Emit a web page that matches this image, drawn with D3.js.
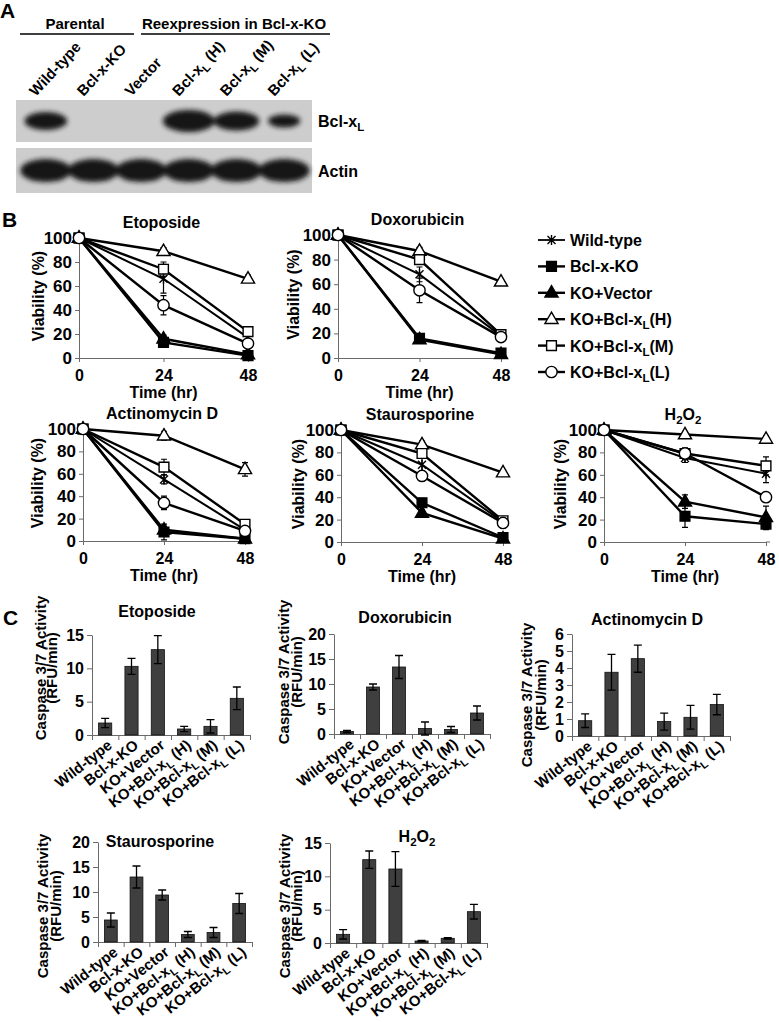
<!DOCTYPE html>
<html><head><meta charset="utf-8">
<script src="https://cdn.jsdelivr.net/npm/d3@7"></script>
<style>
body{margin:0;background:#fff}
text{font-family:"Liberation Sans",Arial,Helvetica,sans-serif;font-weight:bold;fill:#000}
</style>
</head><body>
<svg id="c" width="779" height="1022"></svg>
<script>
// ---------------- DATA ----------------
const lanes = ["Wild-type","Bcl-x-KO","Vector","Bcl-x_L (H)","Bcl-x_L (M)","Bcl-x_L (L)"];
const bclxlBand = [1.0,0,0,1.35,1.1,0.6];
const actinBand = [1,1,1,1,1,1];

const timePoints = [0,24,48];
const viabilityTicks = [0,20,40,60,80,100];
const seriesNames = ["Wild-type","Bcl-x-KO","KO+Vector","KO+Bcl-x_L(H)","KO+Bcl-x_L(M)","KO+Bcl-x_L(L)"];

const etoposideViability    = [[100,66,17],[100,13,2],[100,16,3],[100,89,66],[100,74,22],[100,44,12]];
const etoposideViabilityErr = [[0,12,3],[0,2,1],[0,3,1],[0,3,3],[0,6,3],[0,8,3]];
const doxorubicinViability    = [[100,68,18],[100,16,4],[100,15,3],[100,87,62],[100,80,19],[100,55,17]];
const doxorubicinViabilityErr = [[0,6,3],[0,3,1],[0,2,1],[0,3,2],[0,4,3],[0,10,3]];
const actinomycinViability    = [[100,55,10],[100,8,2],[100,10,2],[100,94,64],[100,66,15],[100,34,9]];
const actinomycinViabilityErr = [[0,4,2],[0,7,1],[0,3,1],[0,4,6],[0,7,3],[0,6,2]];
const staurosporineViability    = [[100,69,18],[100,35,4],[100,26,3],[100,87,62],[100,79,19],[100,59,17]];
const staurosporineViabilityErr = [[0,6,3],[0,4,2],[0,3,1],[0,3,2],[0,4,3],[0,4,3]];
const h2o2Viability    = [[100,75,61],[100,23,16],[100,36,22],[100,96,92],[100,79,68],[100,79,40]];
const h2o2ViabilityErr = [[0,4,8],[0,10,5],[0,6,10],[0,2,3],[0,5,8],[0,3,2]];

const caspaseCategories = ["Wild-type","Bcl-x-KO","KO+Vector","KO+Bcl-x_L (H)","KO+Bcl-x_L (M)","KO+Bcl-x_L (L)"];
const etoposideCaspase    = [1.8,10.3,12.8,0.9,1.3,5.5];
const etoposideCaspaseErr = [0.7,1.2,2.1,0.4,1.0,1.7];
const etoposideTicks = [0,5,10,15];
const doxorubicinCaspase    = [0.5,9.4,13.4,1.1,0.9,4.2];
const doxorubicinCaspaseErr = [0.2,0.6,2.3,1.3,0.6,1.4];
const doxorubicinTicks = [0,5,10,15,20];
const actinomycinCaspase    = [0.9,3.75,4.55,0.85,1.1,1.85];
const actinomycinCaspaseErr = [0.4,1.05,0.8,0.5,0.7,0.6];
const actinomycinTicks = [0,1,2,3,4,5,6];
const staurosporineCaspase    = [4.4,13.0,9.4,1.5,1.9,7.7];
const staurosporineCaspaseErr = [1.4,2.2,1.0,0.6,1.0,2.0];
const staurosporineTicks = [0,5,10,15,20];
const h2o2Caspase    = [1.3,12.5,11.1,0.3,0.7,4.7];
const h2o2CaspaseErr = [0.7,1.3,2.6,0.1,0.1,1.1];
const h2o2Ticks = [0,5,10,15];

// ---------------- HELPERS ----------------
const svg = d3.select("#c");
const defs = svg.append("defs");
defs.append("filter").attr("id","blur").attr("x","-50%").attr("y","-50%").attr("width","200%").attr("height","200%")
  .append("feGaussianBlur").attr("stdDeviation",2.6);

function rich(t, str, size){
  const parts = str.split(/_(\w)/);
  parts.forEach((p,i)=>{
    if(p==="") return;
    if(i%2===1) t.append("tspan").attr("dy",4).attr("font-size",size*0.72).text(p);
    else t.append("tspan").attr("dy", i>0?-4:0).text(p);
  });
  return t;
}
function label(x,y,str,size,anchor,rot){
  const t = svg.append("text").attr("font-size",size).attr("text-anchor",anchor||"start")
    .attr("transform",`translate(${x},${y})`+(rot?` rotate(${rot})`:""));
  return rich(t,str,size);
}
const AX = "#6a6a6a";
const fmt = d3.format("d");
function styleAxis(g,fs){
  g.selectAll(".domain").attr("stroke",AX).attr("stroke-width",1);
  g.selectAll(".tick line").attr("stroke",AX).attr("stroke-width",1);
  g.selectAll(".tick text").attr("font-size",fs).attr("fill","#000")
    .attr("font-family",'"Liberation Sans",Arial,sans-serif').attr("font-weight","bold");
}

// ---------------- PANEL A ----------------
label(0,18,"A",21,"start");
label(75,29,"Parental",15,"middle");
label(234,29,"Reexpression in Bcl-x-KO",15,"middle");
svg.append("line").attr("x1",20).attr("x2",134).attr("y1",34).attr("y2",34).attr("stroke","#000").attr("stroke-width",1.3);
svg.append("line").attr("x1",141).attr("x2",330).attr("y1",34).attr("y2",34).attr("stroke","#000").attr("stroke-width",1.3);

const laneX = d3.scaleBand().domain(lanes).range([22,308]);
lanes.forEach(l=>{
  label(laneX(l)+laneX.bandwidth()/2-10,97,l,15,"start",-47);
});
const bandRx = d3.scaleLinear().domain([0,1.35]).range([8,26]);
const bandRy = d3.scaleLinear().domain([0,1.35]).range([3,11]);
const blots = [{vals:bclxlBand,y0:100,y1:142,name:"Bcl-x_L",rx:bandRx,ry:bandRy},
               {vals:actinBand,y0:148,y1:193,name:"Actin",rx:d3.scaleLinear().domain([0,1]).range([0,25.5]),ry:d3.scaleLinear().domain([0,1]).range([0,11.5])}];
blots.forEach(b=>{
  svg.append("rect").attr("x",16).attr("y",b.y0).attr("width",296).attr("height",b.y1-b.y0).attr("fill","#cdcdcd");
  const cy=(b.y0+b.y1)/2;
  const g = svg.append("g").attr("filter","url(#blur)");
  b.vals.forEach((v,i)=>{
    if(v<=0) return;
    g.append("ellipse").attr("cx",laneX(lanes[i])+laneX.bandwidth()/2).attr("cy",cy)
      .attr("rx",b.rx(v)).attr("ry",b.ry(v)).attr("fill","#141414");
  });
  label(318,cy+6,b.name,16,"start");
});

// ---------------- PANEL B ----------------
label(2,227,"B",21,"start");
function drawMarker(g,i,x,y){
  if(i===0){
    g.append("path").attr("d",`M${x-4},${y-4}L${x+4},${y+4}M${x-4},${y+4}L${x+4},${y-4}M${x},${y-5}L${x},${y+5}`)
      .attr("stroke","#000").attr("stroke-width",1.4).attr("fill","none");
    return;
  }
  const types=[null,d3.symbolSquare,d3.symbolTriangle,d3.symbolTriangle,d3.symbolSquare,d3.symbolCircle];
  const sizes=[0,95,75,75,95,100];
  const filled = i===1||i===2;
  g.append("path").attr("d",d3.symbol(types[i],sizes[i])())
    .attr("transform",`translate(${x},${y+(types[i]===d3.symbolTriangle?0.5:0)})`)
    .attr("fill",filled?"#000":"#fff").attr("stroke","#000").attr("stroke-width",1.4);
}
const viabilityPanels = [
  {title:"Etoposide",vals:etoposideViability,errs:etoposideViabilityErr,x0:79,x1:248,yTop:238,yBot:358,lx:44},
  {title:"Doxorubicin",vals:doxorubicinViability,errs:doxorubicinViabilityErr,x0:338,x1:501,yTop:235,yBot:358,lx:299},
  {title:"Actinomycin D",vals:actinomycinViability,errs:actinomycinViabilityErr,x0:83,x1:245,yTop:429,yBot:541,lx:43},
  {title:"Staurosporine",vals:staurosporineViability,errs:staurosporineViabilityErr,x0:341,x1:503,yTop:430,yBot:542,lx:304},
  {title:"H_2O_2",vals:h2o2Viability,errs:h2o2ViabilityErr,x0:604,x1:766,yTop:430,yBot:542,lx:566}
];
viabilityPanels.forEach(p=>{
  const x=d3.scaleLinear().domain([0,48]).range([p.x0,p.x1]);
  const y=d3.scaleLinear().domain([0,100]).range([p.yBot,p.yTop]);
  const gy=svg.append("g").attr("transform",`translate(${p.x0},0)`)
    .call(d3.axisLeft(y).tickValues(viabilityTicks).tickFormat(fmt).tickSize(4).tickSizeOuter(0).tickPadding(3));
  styleAxis(gy,17);
  const gx=svg.append("g").attr("transform",`translate(0,${p.yBot})`)
    .call(d3.axisBottom(x).tickValues(timePoints).tickFormat(fmt).tickSize(4).tickSizeOuter(0).tickPadding(8));
  styleAxis(gx,16);
  svg.append("line").attr("x1",p.x1).attr("x2",p.x1+4).attr("y1",p.yBot).attr("y2",p.yBot).attr("stroke",AX);
  label((p.x0+p.x1)/2-2,p.yTop-10,p.title,16,"middle");
  label(p.lx,(p.yTop+p.yBot)/2-2,"Viability (%)",16,"middle",-90);
  label((p.x0+p.x1)/2,p.yBot+40,"Time (hr)",16,"middle");
  const line=d3.line().x((d,i)=>x(timePoints[i])).y(d=>y(d));
  const g=svg.append("g");
  p.vals.forEach((s,k)=>{
    g.append("path").attr("d",line(s)).attr("fill","none").attr("stroke","#000").attr("stroke-width",k===0?2:2.4);
  });
  p.vals.forEach((s,k)=>{
    s.forEach((v,i)=>{
      const e=p.errs[k][i]; if(!e) return;
      const cx=x(timePoints[i]);
      g.append("path").attr("d",`M${cx},${y(v-e)}V${y(v+e)}M${cx-3},${y(v-e)}H${cx+3}M${cx-3},${y(v+e)}H${cx+3}`)
        .attr("stroke","#000").attr("stroke-width",1.2).attr("fill","none");
    });
  });
  p.vals.forEach((s,k)=>{
    s.forEach((v,i)=>drawMarker(g,k,x(timePoints[i]),y(v)));
  });
});
// legend
const legY=d3.scaleLinear().domain([0,5]).range([240,372]);
seriesNames.forEach((n,i)=>{
  const cy=legY(i);
  const g=svg.append("g");
  g.append("line").attr("x1",538).attr("x2",565).attr("y1",cy).attr("y2",cy).attr("stroke","#000").attr("stroke-width",i===0?1.8:2.4);
  drawMarker(g,i,551.5,cy);
  label(570,cy+6,n,16,"start");
});

// ---------------- PANEL C ----------------
label(3,625,"C",21,"start");
const caspasePanels=[
  {title:"Etoposide",vals:etoposideCaspase,errs:etoposideCaspaseErr,ticks:etoposideTicks,x0:92,x1:250,yTop:635,yBot:735,l1:46,l2:57,ly:668,tx:157,ty:617},
  {title:"Doxorubicin",vals:doxorubicinCaspase,errs:doxorubicinCaspaseErr,ticks:doxorubicinTicks,x0:334,x1:490,yTop:634,yBot:734,l1:289,l2:302,ly:672,tx:405,ty:623},
  {title:"Actinomycin D",vals:actinomycinCaspase,errs:actinomycinCaspaseErr,ticks:actinomycinTicks,x0:572,x1:730,yTop:634,yBot:736,l1:532,l2:546,ly:695,tx:647,ty:625},
  {title:"Staurosporine",vals:staurosporineCaspase,errs:staurosporineCaspaseErr,ticks:staurosporineTicks,x0:98,x1:252,yTop:842,yBot:942,l1:48,l2:61,ly:906,tx:160,ty:847},
  {title:"H_2O_2",vals:h2o2Caspase,errs:h2o2CaspaseErr,ticks:h2o2Ticks,x0:330,x1:487,yTop:843,yBot:943,l1:290,l2:302,ly:906,tx:417,ty:842}
];
caspasePanels.forEach(p=>{
  const x=d3.scaleBand().domain(caspaseCategories).range([p.x0,p.x1]).paddingInner(0.5).paddingOuter(0.25);
  const y=d3.scaleLinear().domain([0,d3.max(p.ticks)]).range([p.yBot,p.yTop]);
  const gy=svg.append("g").attr("transform",`translate(${p.x0},0)`)
    .call(d3.axisLeft(y).tickValues(p.ticks).tickFormat(fmt).tickSize(5).tickSizeOuter(0).tickPadding(3));
  styleAxis(gy,16);
  const xb=d3.scaleLinear().domain([0,caspaseCategories.length]).range([p.x0,p.x1]);
  const gx=svg.append("g").attr("transform",`translate(0,${p.yBot})`)
    .call(d3.axisBottom(xb).tickValues(d3.range(caspaseCategories.length+1)).tickFormat("").tickSize(5).tickSizeOuter(0));
  styleAxis(gx,16);
  const g=svg.append("g");
  caspaseCategories.forEach((c,i)=>{
    g.append("rect").attr("x",x(c)).attr("y",y(p.vals[i])).attr("width",x.bandwidth())
      .attr("height",y(0)-y(p.vals[i])).attr("fill","#3f3f3f").attr("stroke","#111").attr("stroke-width",0.8);
    const cx=x(c)+x.bandwidth()/2, lo=y(p.vals[i]-p.errs[i]), hi=y(p.vals[i]+p.errs[i]);
    g.append("path").attr("d",`M${cx},${lo}V${hi}M${cx-4},${lo}H${cx+4}M${cx-4},${hi}H${cx+4}`)
      .attr("stroke","#000").attr("stroke-width",1.3).attr("fill","none");
    label(cx+8,p.yBot+12,c,15,"end",-38);
  });
  label(p.tx,p.ty,p.title,16,"middle");
  label(p.l1,p.ly,"Caspase 3/7 Activity",15,"middle",-90);
  label(p.l2,p.ly,"(RFU/min)",15,"middle",-90);
});
</script>
</body></html>
